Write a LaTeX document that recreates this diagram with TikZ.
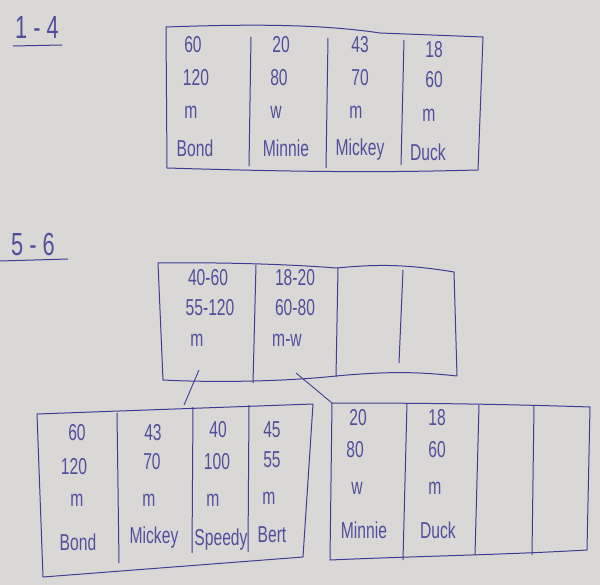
\documentclass[tikz,border=0pt]{standalone}
\usepackage{fontspec}
\newfontfamily\handfont[FakeStretch=0.68]{Liberation Sans}
\definecolor{paper}{RGB}{218,216,214}
\definecolor{ink}{RGB}{62,60,148}
\begin{document}
\begin{tikzpicture}[x=1pt,y=-1pt,
  box/.style={draw=ink, line width=1pt, line join=round},
  cell/.style={text=ink!88!paper, font=\handfont\fontsize{23}{25}\selectfont, inner sep=0pt, anchor=center},
  head/.style={text=ink!88!paper, font=\handfont\fontsize{32}{34}\selectfont, inner sep=0pt},
  link/.style={draw=ink, line width=0.9pt}]
\fill[paper] (0,0) rectangle (600,585);
\useasboundingbox (0,0) rectangle (600,585);

% ---------- headings ----------
\node[head] (h1) at (37,27) {1 - 4};
\draw[box] (13,46) -- (62,45);
\node[head] (h2) at (33,244) {5 - 6};
\draw[box] (0,261) -- (68,259);

% ---------- table 1-4 ----------
\draw[box] (166,27) .. controls (250,24) and (320,24) .. (380,33) -- (483,37) -- (478,170)
  .. controls (400,172) and (330,173) .. (167,168) -- cycle;
\draw[box] (251,37) -- (249,166);
\draw[box] (328,38) -- (326,168);
\draw[box] (404,40) -- (401,165);
\node[cell] (a1) at (193,45) {60};
\node[cell] (a2) at (196,78) {120};
\node[cell] (a3) at (191,112) {m};
\node[cell] (a4) at (195,148) {Bond};
\node[cell] (b1) at (281,45) {20};
\node[cell] (b2) at (279,78) {80};
\node[cell] (b3) at (276,112) {w};
\node[cell] (b4) at (286,148) {Minnie};
\node[cell] (c1) at (360,45) {43};
\node[cell] (c2) at (360,78) {70};
\node[cell] (c3) at (356,112) {m};
\node[cell] (c4) at (360,150) {Mickey};
\node[cell] (d1) at (434,50) {18};
\node[cell] (d2) at (434,80) {60};
\node[cell] (d3) at (429,115) {m};
\node[cell] (d4) at (428,152) {Duck};

% ---------- root node 5-6 ----------
\draw[box] (158,263) .. controls (230,262) and (300,265) .. (336,268)
  .. controls (370,265) and (400,263) .. (454,272) -- (457,376)
  .. controls (420,372) and (390,371) .. (336,376)
  .. controls (290,381) and (220,383) .. (163,380) -- cycle;
\draw[box] (256,265) -- (253,383);
\draw[box] (338,268) -- (336,377);
\draw[box] (403,270) -- (399,363);
\node[cell] (r1) at (208,278) {40-60};
\node[cell] (r2) at (210,308) {55-120};
\node[cell] (r3) at (197,340) {m};
\node[cell] (s1) at (295,278) {18-20};
\node[cell] (s2) at (295,308) {60-80};
\node[cell] (s3) at (287,340) {m-w};

% ---------- left leaf ----------
\draw[box] (37,414) -- (313,404) -- (303,557) -- (43,577) -- cycle;
\draw[box] (117,413) -- (119,563);
\draw[box] (193,407) -- (192,553);
\draw[box] (249,405) -- (248,552);
\node[cell] (e1) at (77,433) {60};
\node[cell] (e2) at (74,467) {120};
\node[cell] (e3) at (77,500) {m};
\node[cell] (e4) at (78,542) {Bond};
\node[cell] (f1) at (153,433) {43};
\node[cell] (f2) at (152,462) {70};
\node[cell] (f3) at (149,500) {m};
\node[cell] (f4) at (154,538) {Mickey};
\node[cell] (g1) at (218,430) {40};
\node[cell] (g2) at (217,462) {100};
\node[cell] (g3) at (213,500) {m};
\node[cell] (g4) at (221,540) {Speedy};
\node[cell] (k1) at (272,430) {45};
\node[cell] (k2) at (272,460) {55};
\node[cell] (k3) at (269,498) {m};
\node[cell] (k4) at (272,535) {Bert};

% ---------- right leaf ----------
\draw[box] (332,403) .. controls (420,403) and (500,404) .. (590,407) -- (587,550)
  .. controls (500,555) and (420,556) .. (330,560) -- cycle;
\draw[box] (407,403) -- (403,560);
\draw[box] (479,405) -- (475,555);
\draw[box] (534,405) -- (532,555);
\node[cell] (m1) at (358,418) {20};
\node[cell] (m2) at (355,450) {80};
\node[cell] (m3) at (357,488) {w};
\node[cell] (m4) at (364,530) {Minnie};
\node[cell] (n1) at (437,418) {18};
\node[cell] (n2) at (437,450) {60};
\node[cell] (n3) at (435,488) {m};
\node[cell] (n4) at (438,530) {Duck};

% ---------- links ----------
\coordinate (p1) at (199,370);
\coordinate (q1) at (184,405);
\coordinate (p2) at (296,373);
\coordinate (q2) at (332,403);
\draw[link] (p1) -- (q1);
\draw[link] (p2) -- (q2);
\end{tikzpicture}
\end{document}
